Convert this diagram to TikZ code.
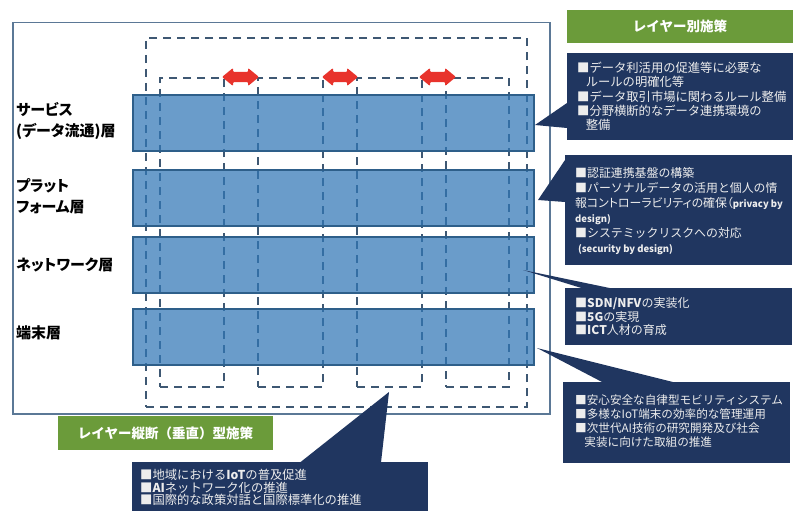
\documentclass[tikz,border=0pt]{standalone}
\usepackage{fontspec}
\setmainfont{Noto Sans CJK JP}
\usetikzlibrary{calc}
\definecolor{navy}{HTML}{203660}
\definecolor{grn}{HTML}{6B9B3A}
\definecolor{barfill}{HTML}{3177B6}
\definecolor{barline}{HTML}{2E5F8A}
\definecolor{dashc}{HTML}{3E5873}
\definecolor{framec}{HTML}{5B7896}
\definecolor{redarr}{HTML}{E8332C}
\definecolor{txt}{HTML}{EDEDED}
\newcommand\vlines[2]{\vtop{\baselineskip=#1pt\lineskiplimit=-20pt\lineskip=0pt #2}}
\newcommand\prop{\addfontfeature{RawFeature=+palt}}
\begin{document}
\begin{tikzpicture}[x=1pt,y=-1pt,
  bar/.style={draw=barline,line width=1.2pt,fill=barfill,fill opacity=0.72,minimum width=401pt,minimum height=56pt,anchor=north west,inner sep=0pt,outer sep=0pt},
  dbox/.style={draw=dashc,line width=2.7pt,dash pattern=on 8pt off 6pt,anchor=north west,inner sep=0pt,outer sep=0pt},
  nbox/.style={fill=navy,anchor=north west,inner sep=0pt,outer sep=0pt},
  gbox/.style={fill=grn,text=white,font=\bfseries\fontsize{13.5}{16}\selectfont,anchor=north west,inner sep=0pt,outer sep=0pt},
  lab/.style={anchor=base west,inner sep=0pt,font=\bfseries\fontsize{15}{18}\selectfont\prop,text=black},
  btxt/.style={anchor=base west,inner sep=0pt,text=txt}]
\useasboundingbox (0,0) rectangle (795,511);
\clip (0,0) rectangle (795,511);
\fill[white] (0,0) rectangle (795,511);
% outer frame
\node[draw=framec,line width=1.5pt,anchor=north west,inner sep=0pt,minimum width=537pt,minimum height=391pt] (frame) at (12,22) {};
% dashed groups
\node[dbox,minimum width=381pt,minimum height=369pt] (outer) at (146,38) {};
\node[dbox,minimum width=64pt,minimum height=309pt] (c1) at (160,78) {};
\node[dbox,minimum width=65pt,minimum height=309pt] (c2) at (258,78) {};
\node[dbox,minimum width=65pt,minimum height=309pt] (c3) at (357,78) {};
\node[dbox,minimum width=63pt,minimum height=309pt] (c4) at (446,78) {};
% layer bars
\node[bar] (svc) at (133,95) {};
\node[bar] (plat) at (133,170) {};
\node[bar] (net) at (133,237) {};
\node[bar] (term) at (133,309) {};
% red double arrows
\foreach \a/\b in {222/259,322/358,419/456}{
  \fill[redarr,rounded corners=1pt] (\a,77) -- (\a+11,68) -- (\a+11,72) -- (\b-11,72) -- (\b-11,68) -- (\b,77) -- (\b-11,86) -- (\b-11,82) -- (\a+11,82) -- (\a+11,86) -- cycle;
}
% layer labels
\node[lab] (l1) at (16,115.5) {\vlines{20.5}{\hbox{サービス}\hbox{(データ流通)層}}};
\node[lab] (l2) at (16,191) {\vlines{21.5}{\hbox{プラット}\hbox{フォーム層}}};
\node[lab] (l3) at (16,270.5) {ネットワーク層};
\node[lab] (l4) at (16,338.5) {端末層};
% green headers
\node[gbox,minimum width=226pt,minimum height=33pt] (h1) at (567,10) {レイヤー別施策};
\node[gbox,minimum width=215pt,minimum height=34pt] (h2) at (58,416) {レイヤー縦断（垂直）型施策};
% navy boxes
\node[nbox,minimum width=226pt,minimum height=87pt] (b1) at (567,53) {};
\node[nbox,minimum width=227pt,minimum height=110pt] (b2) at (565,155) {};
\node[nbox,minimum width=227pt,minimum height=57pt] (b3) at (565,288) {};
\node[nbox,minimum width=227pt,minimum height=81pt] (b4) at (563,382) {};
\node[nbox,minimum width=296pt,minimum height=60pt] (b5) at (132,462) {};
% callout pointers
\coordinate (t1) at (535,125);
\coordinate (t2) at (538,200);
\coordinate (t3) at (523,270);
\coordinate (t4) at (537,348);
\coordinate (t5) at (389,392);
\fill[navy] (b1.north west |- 0,103) -- (t1) -- (b1.north west |- 0,128) -- cycle;
\fill[navy] (b2.north west |- 0,160) -- (t2) -- (b2.north west |- 0,202) -- cycle;
\fill[navy] (t3) -- (612,288.5) -- (583,288.5) -- cycle;
\fill[navy] (t4) -- (675,382.5) -- (603,382.5) -- cycle;
\fill[navy] (t5) -- (381,462.5) -- (300,462.5) -- cycle;
% texts
\node[btxt,font=\fontsize{12.3}{14}\selectfont] (x1) at (577,72.5) {\vlines{14.25}{%
  \hbox{■データ利活用の促進等に必要な}%
  \hbox{\hspace*{0.7em}ルールの明確化等}%
  \hbox{■データ取引市場に関わるルール整備}%
  \hbox{■分野横断的なデータ連携環境の}%
  \hbox{\hspace*{0.7em}整備}}};
\node[btxt,font=\fontsize{11.9}{14}\selectfont] (x2) at (575,177.5) {\vlines{15}{%
  \hbox{■認証連携基盤の構築}%
  \hbox{■パーソナルデータの活用と個人の情}%
  \hbox{\prop 報コントローラビリティの確保（\textbf{\fontsize{9.5}{11}\selectfont privacy by}}%
  \hbox{\textbf{\fontsize{9.5}{11}\selectfont design)}}%
  \hbox{■システミックリスクへの対応}%
  \hbox{\textbf{\fontsize{9.5}{11}\selectfont\hspace*{0.3em}(security by design)}}}};
\node[btxt,font=\fontsize{12}{14}\selectfont] (x3) at (575,307.5) {\vlines{13.5}{%
  \hbox{■\textbf{SDN/NFV}の実装化}%
  \hbox{■\textbf{5G}の実現}%
  \hbox{■\textbf{ICT}人材の育成}}};
\node[btxt,font=\fontsize{11.6}{14}\selectfont] (x4) at (575,404.5) {\vlines{14}{%
  \hbox{■安心安全な自律型モビリティシステム}%
  \hbox{■多様なIoT端末の効率的な管理運用}%
  \hbox{■次世代AI技術の研究開発及び社会}%
  \hbox{\hspace*{0.8em}実装に向けた取組の推進}}};
\node[btxt,font=\fontsize{12.3}{14}\selectfont] (x5) at (140,479.5) {\vlines{12.5}{%
  \hbox{■地域における\textbf{IoT}の普及促進}%
  \hbox{■\textbf{AI}ネットワーク化の推進}%
  \hbox{■国際的な政策対話と国際標準化の推進}}};
\end{tikzpicture}
\end{document}
